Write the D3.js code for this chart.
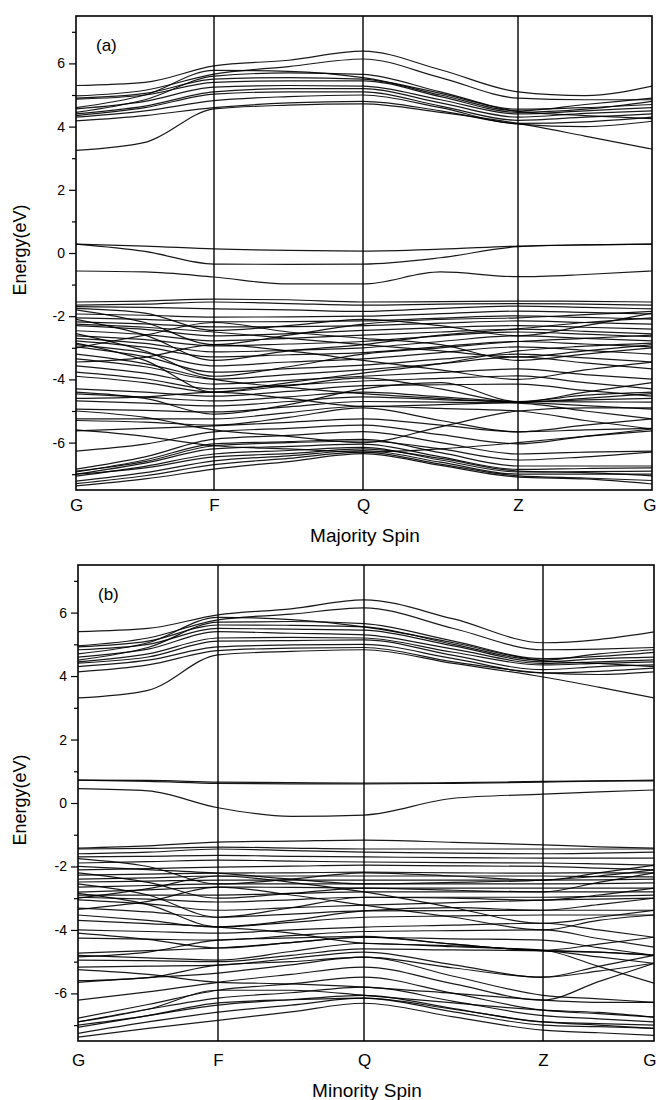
<!DOCTYPE html>
<html lang="en">
  <head>
    <meta charset="utf-8">
    <script type="text/javascript" src="https://d3js.org/d3.v7.min.js"></script>
    <title>Band structure - majority / minority spin</title>
    <style media="screen">
      body { margin: 0; background: #fff; }
      svg { display: block; }
      text { font-family: "Liberation Sans", Arial, sans-serif; fill: #000; }
    </style>
  </head>
  <body>
    <script type="text/javascript">

    // k-path labels and positions (k-distance along the path)
    var kLabels = ["G", "F", "Q", "Z", "G"];
    var kTicksA = [0, 1.38, 2.87, 4.42, 5.76];
    var kTicksB = [0, 1.40, 2.86, 4.65, 5.76];
    // sampled k points: G, mid, F, mid, Q, mid, Z, mid, G
    var kSamplesA = [0, 0.69, 1.38, 2.125, 2.87, 3.645, 4.42, 5.09, 5.76];
    var kSamplesB = [0, 0.70, 1.40, 2.13, 2.86, 3.755, 4.65, 5.205, 5.76];

    var majorTicks = [-6, -4, -2, 0, 2, 4, 6];
    var minorTicks = [-7, -5, -3, -1, 1, 3, 5, 7];

    // ---- (a) majority spin ----
    var majConduction = [
      [5.30, 5.40, 5.92, 6.10, 6.39, 5.80, 5.10, 4.98, 5.28],
      [4.97, 5.15, 5.66, 5.90, 6.14, 5.55, 4.90, 4.85, 4.85],
      [4.90, 5.05, 5.50, 5.55, 5.50, 5.00, 4.50, 4.70, 4.90],
      [4.87, 5.00, 5.40, 5.45, 5.45, 4.95, 4.45, 4.55, 4.80],
      [4.56, 4.80, 5.25, 5.30, 5.28, 4.85, 4.40, 4.50, 4.60],
      [4.40, 4.65, 5.10, 5.20, 5.20, 4.75, 4.30, 4.42, 4.50],
      [4.35, 4.60, 5.03, 5.10, 5.10, 4.65, 4.20, 4.30, 4.40],
      [4.30, 4.50, 4.82, 4.95, 5.00, 4.60, 4.10, 4.15, 4.30],
      [4.18, 4.35, 4.60, 4.75, 4.80, 4.50, 4.08, 4.00, 4.17],
      [3.25, 3.50, 4.56, 4.68, 4.72, 4.45, 4.10, 3.70, 3.29],
      [4.45, 4.85, 5.60, 5.70, 5.65, 5.10, 4.55, 4.60, 4.70],
      [4.60, 5.00, 5.78, 5.75, 5.55, 5.05, 4.48, 4.35, 4.25]
    ];
    var majGap = [
      [0.28, 0.22, 0.13, 0.08, 0.06, 0.12, 0.22, 0.26, 0.28],
      [0.28, 0.05, -0.35, -0.36, -0.35, -0.15, 0.20, 0.26, 0.28],
      [-0.57, -0.60, -0.76, -0.98, -0.98, -0.60, -0.75, -0.68, -0.57]
    ];
    var majValence = [
      [-1.55, -1.52, -1.46, -1.48, -1.55, -1.54, -1.52, -1.53, -1.55],
      [-1.65, -1.62, -1.55, -1.60, -1.65, -1.62, -1.60, -1.62, -1.65],
      [-1.70, -1.72, -1.77, -1.80, -1.85, -1.75, -1.68, -1.72, -1.77],
      [-1.93, -1.97, -2.03, -2.02, -2.00, -1.92, -1.84, -1.88, -1.93],
      [-2.05, -2.10, -2.18, -2.17, -2.15, -2.06, -1.99, -2.04, -2.09],
      [-2.18, -2.24, -2.34, -2.33, -2.30, -2.22, -2.15, -2.20, -2.25],
      [-2.30, -2.42, -2.62, -2.55, -2.45, -2.36, -2.30, -2.35, -2.41],
      [-2.46, -2.58, -2.78, -2.70, -2.60, -2.50, -2.41, -2.48, -2.56],
      [-2.62, -2.74, -2.94, -2.88, -2.80, -2.62, -2.50, -2.57, -2.65],
      [-2.70, -2.86, -3.13, -3.08, -3.00, -2.80, -2.62, -2.70, -2.78],
      [-2.78, -2.98, -3.29, -3.22, -3.15, -2.96, -2.80, -2.88, -2.97],
      [-2.90, -3.15, -3.57, -3.45, -3.35, -3.15, -2.97, -3.08, -3.20],
      [-2.97, -3.28, -3.77, -3.66, -3.55, -3.36, -3.20, -3.32, -3.45],
      [-3.35, -3.60, -3.99, -3.85, -3.70, -3.50, -3.29, -3.48, -3.67],
      [-3.57, -3.80, -4.15, -4.03, -3.90, -3.78, -3.67, -3.85, -3.99],
      [-3.77, -3.98, -4.30, -4.18, -4.05, -3.97, -3.89, -4.10, -4.30],
      [-4.30, -4.40, -4.53, -4.38, -4.20, -4.17, -4.15, -4.35, -4.53],
      [-4.46, -4.56, -4.68, -4.55, -4.40, -4.55, -4.70, -4.71, -4.72],
      [-4.68, -4.75, -4.84, -4.70, -4.55, -4.64, -4.72, -4.83, -4.94],
      [-4.94, -4.98, -5.03, -4.87, -4.70, -4.72, -4.75, -5.00, -5.25],
      [-5.25, -5.25, -5.25, -5.05, -4.85, -4.92, -5.00, -5.30, -5.57],
      [-5.63, -5.55, -5.47, -5.36, -5.25, -5.45, -5.66, -5.45, -5.25],
      [-6.27, -6.05, -5.66, -5.55, -5.45, -5.75, -6.04, -5.80, -5.57],
      [-6.84, -6.45, -5.89, -5.77, -5.65, -6.00, -6.36, -6.30, -6.27],
      [-6.93, -6.55, -6.04, -5.97, -5.90, -6.32, -6.74, -6.74, -6.74],
      [-7.00, -6.65, -6.20, -6.12, -6.05, -6.45, -6.85, -6.82, -6.80],
      [-7.06, -6.75, -6.36, -6.25, -6.15, -6.55, -6.93, -6.92, -6.90],
      [-7.22, -6.95, -6.58, -6.42, -6.25, -6.62, -7.00, -7.00, -7.00],
      [-7.30, -7.05, -6.70, -6.50, -6.30, -6.68, -7.05, -7.12, -7.20],
      [-7.37, -7.15, -6.84, -6.60, -6.35, -6.72, -7.09, -7.15, -7.31],
      // crossing branches
      [-1.80, -2.20, -2.90, -2.60, -2.25, -2.10, -2.05, -1.95, -1.85],
      [-2.10, -2.60, -3.40, -3.10, -2.90, -2.60, -2.40, -2.20, -2.05],
      [-2.55, -3.10, -3.90, -3.60, -3.20, -3.00, -2.80, -2.70, -2.60],
      [-2.85, -3.40, -4.40, -4.10, -3.80, -3.50, -3.10, -2.95, -2.85],
      [-3.00, -2.60, -2.20, -2.50, -2.70, -2.90, -3.40, -3.20, -3.00],
      [-3.45, -3.30, -2.90, -3.10, -3.40, -3.70, -4.00, -3.70, -3.45],
      [-4.40, -4.60, -5.10, -4.80, -4.30, -4.10, -4.70, -4.50, -4.40],
      [-4.60, -4.55, -4.40, -4.60, -4.85, -4.80, -4.72, -4.65, -4.60],
      [-5.00, -5.20, -5.60, -5.80, -6.00, -5.50, -5.00, -4.90, -4.90],
      [-5.30, -5.35, -5.45, -5.20, -4.90, -5.30, -5.66, -5.60, -5.55],
      [-5.60, -5.80, -6.10, -6.20, -6.30, -6.20, -6.00, -5.80, -5.63],
      [-6.90, -6.60, -6.10, -6.00, -5.95, -6.20, -6.55, -6.45, -6.30],
      [-7.00, -6.80, -6.45, -6.35, -6.20, -6.50, -6.90, -6.95, -7.05],
      [-1.75, -1.90, -2.45, -2.30, -2.10, -2.30, -2.62, -2.30, -1.90],
      [-2.25, -2.35, -2.50, -2.70, -2.90, -3.10, -3.29, -3.10, -2.90],
      [-3.90, -4.10, -4.40, -4.20, -3.95, -4.30, -4.72, -4.40, -4.10],
      [-3.20, -3.50, -4.00, -4.25, -4.45, -4.60, -4.72, -4.60, -4.45]
    ];

    // ---- (b) minority spin ----
    var minConduction = [
      [5.40, 5.50, 5.93, 6.12, 6.40, 5.80, 5.05, 5.15, 5.39],
      [4.95, 5.20, 5.77, 5.95, 6.15, 5.50, 4.83, 4.85, 4.90],
      [4.92, 5.10, 5.61, 5.60, 5.55, 5.00, 4.50, 4.70, 4.83],
      [4.83, 5.00, 5.50, 5.48, 5.45, 4.95, 4.45, 4.55, 4.60],
      [4.60, 4.85, 5.40, 5.35, 5.30, 4.85, 4.40, 4.45, 4.51],
      [4.45, 4.70, 5.20, 5.22, 5.20, 4.75, 4.35, 4.40, 4.45],
      [4.41, 4.60, 5.10, 5.12, 5.14, 4.65, 4.20, 4.30, 4.35],
      [4.30, 4.50, 4.92, 4.98, 5.00, 4.55, 4.10, 4.15, 4.25],
      [4.13, 4.35, 4.80, 4.88, 4.90, 4.45, 4.10, 4.05, 4.13],
      [3.31, 3.55, 4.67, 4.78, 4.83, 4.40, 3.97, 3.65, 3.31],
      [4.50, 4.90, 5.70, 5.72, 5.65, 5.10, 4.55, 4.62, 4.75],
      [4.70, 5.05, 5.85, 5.78, 5.55, 5.05, 4.48, 4.40, 4.30]
    ];
    var minGap = [
      [0.72, 0.71, 0.66, 0.64, 0.63, 0.64, 0.68, 0.70, 0.72],
      [0.72, 0.68, 0.62, 0.60, 0.60, 0.62, 0.66, 0.69, 0.70],
      [0.45, 0.38, -0.15, -0.42, -0.38, 0.15, 0.28, 0.35, 0.41]
    ];
    var minValence = [
      [-1.42, -1.35, -1.23, -1.20, -1.17, -1.24, -1.32, -1.38, -1.42],
      [-1.45, -1.43, -1.39, -1.42, -1.45, -1.45, -1.45, -1.45, -1.45],
      [-1.60, -1.55, -1.45, -1.50, -1.55, -1.58, -1.60, -1.58, -1.55],
      [-1.70, -1.68, -1.65, -1.68, -1.70, -1.72, -1.74, -1.74, -1.74],
      [-1.89, -1.85, -1.80, -1.83, -1.86, -1.88, -1.89, -1.92, -1.96],
      [-2.11, -2.07, -2.02, -1.99, -1.96, -1.98, -2.00, -2.05, -2.11],
      [-2.27, -2.24, -2.21, -2.20, -2.18, -2.20, -2.21, -2.20, -2.20],
      [-2.40, -2.36, -2.30, -2.30, -2.30, -2.30, -2.30, -2.32, -2.33],
      [-2.49, -2.46, -2.43, -2.43, -2.43, -2.43, -2.43, -2.42, -2.40],
      [-2.65, -2.60, -2.55, -2.55, -2.55, -2.55, -2.55, -2.54, -2.52],
      [-2.81, -2.74, -2.65, -2.66, -2.68, -2.68, -2.68, -2.68, -2.68],
      [-2.90, -2.90, -2.90, -2.85, -2.80, -2.80, -2.80, -2.80, -2.80],
      [-2.97, -3.03, -3.12, -3.05, -2.97, -2.97, -2.97, -2.94, -2.90],
      [-3.05, -3.18, -3.38, -3.30, -3.22, -3.14, -3.06, -3.03, -3.00],
      [-3.31, -3.43, -3.60, -3.50, -3.40, -3.39, -3.38, -3.38, -3.38],
      [-3.53, -3.70, -3.91, -3.76, -3.60, -3.56, -3.53, -3.53, -3.53],
      [-4.00, -4.05, -4.10, -4.00, -3.91, -3.85, -3.79, -4.00, -4.23],
      [-4.26, -4.29, -4.32, -4.18, -4.05, -4.02, -4.00, -4.27, -4.54],
      [-4.73, -4.65, -4.57, -4.40, -4.23, -4.28, -4.32, -4.56, -4.80],
      [-4.80, -4.88, -4.95, -4.68, -4.42, -4.53, -4.64, -5.15, -5.68],
      [-4.95, -4.97, -5.00, -4.80, -4.60, -4.63, -4.66, -4.85, -5.05],
      [-5.17, -5.14, -5.11, -4.90, -4.70, -5.10, -5.49, -5.15, -4.80],
      [-5.65, -5.50, -5.36, -5.10, -4.86, -5.46, -6.06, -6.17, -6.28],
      [-6.21, -5.95, -5.65, -5.40, -5.17, -5.70, -6.21, -5.63, -5.05],
      [-6.78, -6.35, -5.90, -5.70, -5.49, -6.00, -6.53, -6.64, -6.75],
      [-6.90, -6.50, -6.15, -5.98, -5.80, -6.25, -6.70, -6.80, -6.90],
      [-7.07, -6.70, -6.37, -6.20, -6.06, -6.48, -6.90, -6.95, -7.00],
      [-7.26, -6.90, -6.59, -6.37, -6.15, -6.58, -7.00, -7.05, -7.10],
      [-7.38, -7.10, -6.85, -6.58, -6.31, -6.74, -7.16, -7.24, -7.32],
      // crossing branches
      [-1.75, -2.00, -2.55, -2.40, -2.20, -2.30, -2.43, -2.20, -1.96],
      [-2.20, -2.50, -3.00, -2.85, -2.68, -2.75, -2.80, -2.50, -2.20],
      [-2.55, -2.90, -3.60, -3.30, -2.97, -3.00, -3.06, -2.90, -2.68],
      [-2.85, -3.20, -3.90, -3.70, -3.40, -3.30, -3.38, -3.20, -3.00],
      [-3.00, -2.70, -2.30, -2.50, -2.80, -3.30, -3.79, -3.60, -3.38],
      [-3.35, -3.10, -2.65, -2.90, -3.22, -3.60, -4.00, -3.70, -3.53],
      [-4.10, -4.30, -4.57, -4.40, -4.23, -4.45, -4.64, -4.45, -4.23],
      [-4.85, -4.70, -4.32, -4.25, -4.20, -4.45, -4.66, -4.70, -4.80],
      [-5.25, -5.40, -5.65, -5.70, -5.80, -6.00, -6.21, -6.28, -6.28],
      [-5.60, -5.50, -5.11, -5.00, -4.86, -5.20, -5.49, -5.30, -5.05],
      [-6.90, -6.50, -5.90, -5.90, -6.06, -6.30, -6.53, -6.60, -6.75],
      [-7.00, -6.70, -6.30, -6.20, -6.15, -6.50, -6.90, -7.00, -7.10],
      [-2.00, -2.10, -2.21, -2.40, -2.55, -2.50, -2.43, -2.30, -2.11],
      [-3.70, -3.80, -3.91, -4.10, -4.42, -4.50, -4.64, -4.70, -4.80]
    ];

    var svg = d3.select("body")
      .append("svg")
        .attr("width", 656)
        .attr("height", 1100);

    svg.append("rect")
      .attr("width", 656)
      .attr("height", 1100)
      .attr("fill", "#fff");

    function drawPanel(p) {
      var x = d3.scaleLinear()
          .domain([0, 5.76])
          .range([p.left, p.right]);

      var y = d3.scaleLinear()
          .domain([-7.5, 7.5])
          .range([p.bottom, p.top]);

      var g = svg.append("g");

      g.append("clipPath")
          .attr("id", p.id)
        .append("rect")
          .attr("x", p.left)
          .attr("y", p.top)
          .attr("width", p.right - p.left)
          .attr("height", p.bottom - p.top);

      var line = d3.line()
          .x(function(d, i) { return x(p.k[i]); })
          .y(function(d) { return y(d); })
          .curve(d3.curveMonotoneX);

      var bands = p.bands[0].concat(p.bands[1], p.bands[2]);

      g.append("g")
          .attr("clip-path", "url(#" + p.id + ")")
        .selectAll("path")
        .data(bands)
        .enter()
        .append("path")
          .attr("d", line)
          .attr("fill", "none")
          .attr("stroke", "#000")
          .attr("stroke-opacity", 0.9)
          .attr("stroke-width", 1.2);

      // high-symmetry verticals
      g.selectAll(".kline")
        .data(p.kTicks.slice(1, -1))
        .enter()
        .append("line")
          .attr("x1", function(d) { return x(d); })
          .attr("x2", function(d) { return x(d); })
          .attr("y1", p.top)
          .attr("y2", p.bottom)
          .attr("stroke", "#000")
          .attr("stroke-width", 1.4);

      // frame
      g.append("rect")
          .attr("x", p.left)
          .attr("y", p.top)
          .attr("width", p.right - p.left)
          .attr("height", p.bottom - p.top)
          .attr("fill", "none")
          .attr("stroke", "#000")
          .attr("stroke-width", 1.6);

      // y axis: major + minor ticks
      var yAxis = g.append("g")
          .attr("transform", "translate(" + p.left + ",0)")
          .call(d3.axisLeft(y)
            .tickValues(majorTicks)
            .tickSize(7)
            .tickPadding(4)
            .tickFormat(function(d) { return String(d); }));
      yAxis.select(".domain").remove();
      yAxis.selectAll("text")
          .style("font-family", "'Liberation Sans', Arial, sans-serif")
          .style("font-size", "14px");
      yAxis.selectAll("line").attr("stroke-width", 1.2);

      var yMinor = g.append("g")
          .attr("transform", "translate(" + p.left + ",0)")
          .call(d3.axisLeft(y)
            .tickValues(minorTicks)
            .tickSize(4)
            .tickFormat(""));
      yMinor.select(".domain").remove();
      yMinor.selectAll("line").attr("stroke-width", 1.2);

      // k labels
      var xAxis = g.append("g")
          .attr("transform", "translate(0," + p.bottom + ")")
          .call(d3.axisBottom(x)
            .tickValues(p.kTicks)
            .tickSize(0)
            .tickPadding(p.kPad)
            .tickFormat(function(d, i) { return kLabels[i]; }));
      xAxis.select(".domain").remove();
      xAxis.selectAll("text")
          .style("font-family", "'Liberation Sans', Arial, sans-serif")
          .style("font-size", "17px");
      // last G sits at the page edge
      xAxis.selectAll("text")
          .filter(function(d, i) { return i === kLabels.length - 1; })
          .attr("text-anchor", "end")
          .attr("dx", 656 - p.right);

      g.append("text")
          .attr("x", p.left + 20)
          .attr("y", p.top + 35)
          .style("font-size", "17px")
          .text(p.tag);

      g.append("text")
          .attr("x", (p.left + p.right) / 2 + 1)
          .attr("y", p.titleY)
          .attr("text-anchor", "middle")
          .style("font-size", "19px")
          .text(p.title);

      g.append("text")
          .attr("transform", "translate(26," + ((p.top + p.bottom) / 2 - 3) + ") rotate(-90)")
          .attr("text-anchor", "middle")
          .style("font-size", "18px")
          .text("Energy(eV)");
    }

    drawPanel({
      id: "clipA", left: 76, right: 652, top: 16, bottom: 490,
      k: kSamplesA, kTicks: kTicksA, kPad: 9,
      bands: [majConduction, majGap, majValence],
      tag: "(a)", title: "Majority Spin", titleY: 542
    });

    drawPanel({
      id: "clipB", left: 78, right: 654, top: 565, bottom: 1041,
      k: kSamplesB, kTicks: kTicksB, kPad: 13,
      bands: [minConduction, minGap, minValence],
      tag: "(b)", title: "Minority Spin", titleY: 1097
    });

    </script>
  </body>
</html>
